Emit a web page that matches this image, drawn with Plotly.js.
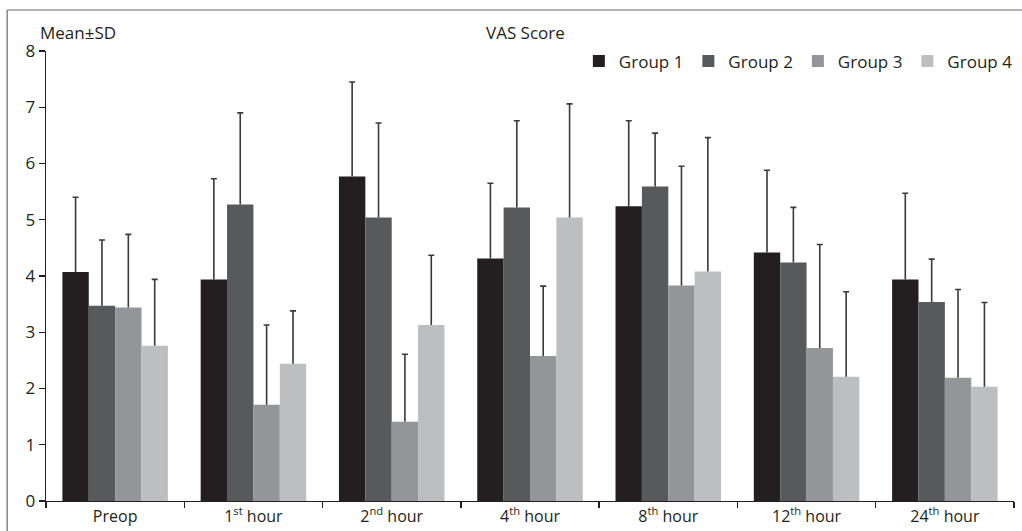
<!DOCTYPE html>
<html>
<head>
<meta charset="utf-8">
<script src="https://cdn.plot.ly/plotly-3.0.1.min.js"></script>
<style>
  html, body { margin: 0; padding: 0; background: #ffffff; }
  #chart { width: 1022px; height: 531px; }
</style>
</head>
<body>
<div id="chart"></div>
<script>
// ---- Data ----
const categories = ['Preop', '1<sup>st</sup> hour', '2<sup>nd</sup> hour', '4<sup>th</sup> hour',
                    '8<sup>th</sup> hour', '12<sup>th</sup> hour', '24<sup>th</sup> hour'];
const seriesNames = ['Group 1', 'Group 2', 'Group 3', 'Group 4'];

const group1Mean = [4.07, 3.94, 5.77, 4.31, 5.24, 4.42, 3.94];
const group1SD   = [1.33, 1.79, 1.68, 1.34, 1.52, 1.46, 1.53];
const group2Mean = [3.47, 5.27, 5.04, 5.22, 5.59, 4.24, 3.54];
const group2SD   = [1.17, 1.63, 1.68, 1.54, 0.95, 0.98, 0.76];
const group3Mean = [3.44, 1.71, 1.41, 2.58, 3.83, 2.72, 2.19];
const group3SD   = [1.30, 1.42, 1.20, 1.24, 2.12, 1.84, 1.57];
const group4Mean = [2.76, 2.44, 3.13, 5.04, 4.08, 2.21, 2.03];
const group4SD   = [1.18, 0.94, 1.24, 2.02, 2.38, 1.51, 1.50];

const yTicks = [0, 1, 2, 3, 4, 5, 6, 7, 8];

// ---- Styling ----
const colors = ['#231f20', '#58595b', '#939598', '#bcbec0'];
const textColor = '#231f20';
const fontFamily = '"Open Sans", "Noto Sans", "DejaVu Sans", sans-serif';
const baseFont = { family: fontFamily, size: 17, color: textColor, weight: 400 };
const tickFont = { family: fontFamily, size: 16, color: textColor, weight: 400 };

const means = [group1Mean, group2Mean, group3Mean, group4Mean];
const sds = [group1SD, group2SD, group3SD, group4SD];

const traces = means.map((m, i) => ({
  type: 'bar',
  name: seriesNames[i],
  x: categories,
  y: m,
  marker: { color: colors[i], line: { width: 0 } },
  error_y: {
    type: 'data',
    symmetric: false,
    array: sds[i],
    arrayminus: sds[i].map(() => 0),
    color: '#3a3a3a',
    thickness: 1.6,
    width: 3
  },
  hoverinfo: 'y'
}));

const layout = {
  width: 1022,
  height: 531,
  margin: { l: 46, r: 4, t: 51, b: 30, pad: 0 },
  paper_bgcolor: '#ffffff',
  plot_bgcolor: '#ffffff',
  font: baseFont,
  barmode: 'group',
  bargap: 0.237,
  bargroupgap: 0,
  showlegend: true,
  legend: {
    orientation: 'h',
    x: 1.004,
    xanchor: 'right',
    y: 0.977,
    yanchor: 'middle',
    bgcolor: 'rgba(0,0,0,0)',
    font: baseFont,
    traceorder: 'normal',
    itemclick: false
  },
  xaxis: {
    type: 'category',
    range: [-0.5, 6.5],
    tickson: 'boundaries',
    ticks: 'outside',
    ticklen: 6,
    tickwidth: 1.4,
    tickcolor: textColor,
    showline: true,
    linecolor: textColor,
    linewidth: 1.4,
    showgrid: false,
    zeroline: false,
    tickfont: tickFont,
    fixedrange: true
  },
  yaxis: {
    range: [0, 8],
    tickvals: yTicks,
    ticktext: yTicks.map(String),
    ticks: 'outside',
    ticklen: 6,
    tickwidth: 1.4,
    tickcolor: textColor,
    showline: true,
    linecolor: textColor,
    linewidth: 1.4,
    showgrid: false,
    zeroline: false,
    tickfont: baseFont,
    fixedrange: true
  },
  annotations: [
    {
      text: 'Mean±SD', xref: 'paper', yref: 'paper',
      x: -0.0082, y: 1.04, xanchor: 'left', yanchor: 'middle',
      showarrow: false, font: baseFont
    },
    {
      text: 'VAS Score', xref: 'paper', yref: 'paper',
      x: (527 - 46) / 972, y: 1.04, xanchor: 'center', yanchor: 'middle',
      showarrow: false, font: baseFont
    }
  ],
  shapes: [
    {
      type: 'line', xref: 'paper', yref: 'paper',
      x0: (7 - 46) / 972, x1: 1.2, y0: (501 - 10) / 450, y1: (501 - 10) / 450,
      line: { color: '#666666', width: 1.2 }, layer: 'below'
    },
    {
      type: 'line', xref: 'paper', yref: 'paper',
      x0: (7 - 46) / 972, x1: (7 - 46) / 972, y0: -0.2, y1: (501 - 10) / 450,
      line: { color: '#666666', width: 1.2 }, layer: 'below'
    }
  ]
};

Plotly.newPlot('chart', traces, layout, { displayModeBar: false, staticPlot: true }).then(() => {
  // remove the lower "shoe" of one-sided error bars so only the upper whisker shows
  document.querySelectorAll('g.errorbar path').forEach(p => {
    const d = p.getAttribute('d') || '';
    p.setAttribute('d', d.replace(/m-[\d.]+,0h[\d.]+$/, ''));
  });
});
</script>
</body>
</html>
